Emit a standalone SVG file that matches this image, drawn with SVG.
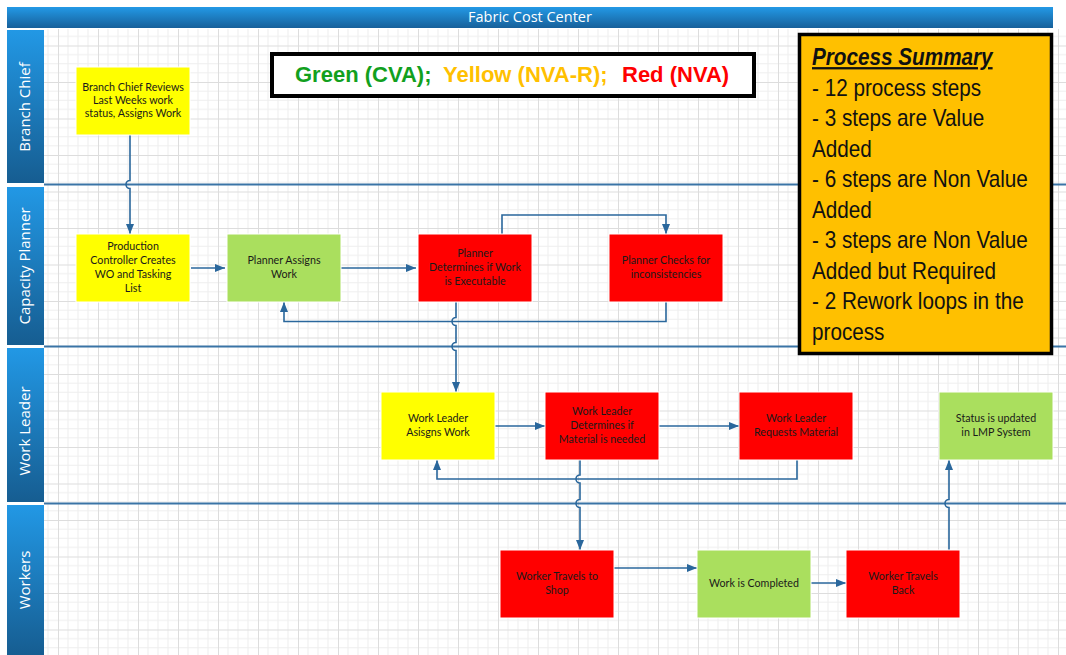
<svg xmlns="http://www.w3.org/2000/svg" width="1066" height="655" viewBox="0 0 1066 655">
<defs>
<pattern id="grid" x="18" y="9" width="40" height="36.5" patternUnits="userSpaceOnUse">
<path d="M10,0V36.5M20,0V36.5M30,0V36.5M0,9.125H40M0,18.25H40M0,27.375H40" stroke="#eeeeee" stroke-width="1" fill="none"/>
<path d="M0.5,0V36.5M0,0.5H40" stroke="#dddddd" stroke-width="1" fill="none"/>
</pattern>
<linearGradient id="hdr" x1="0" y1="0" x2="0" y2="1">
<stop offset="0" stop-color="#2399e6"/>
<stop offset="1" stop-color="#17609a"/>
</linearGradient>
<linearGradient id="lane" x1="0" y1="0" x2="0" y2="1">
<stop offset="0" stop-color="#2298e5"/>
<stop offset="1" stop-color="#165d91"/>
</linearGradient>
<marker id="arr" markerUnits="userSpaceOnUse" markerWidth="10" markerHeight="8" refX="10" refY="4" orient="auto">
<path d="M0,0L10,4L0,8z" fill="#2a679c"/>
</marker>
<style>
.node rect{stroke:#ffffff;stroke-width:1}
.y{fill:#ffff00}.g{fill:#aadf5e}.r{fill:#ff0000}
.node text{font-family:Lato,"Open Sans",sans-serif;font-size:10.7px;fill:#1a1a1a;text-anchor:middle}
.lanelbl{font-family:"Open Sans","DejaVu Sans",sans-serif;font-size:15px;fill:#ffffff;text-anchor:middle}
.conn path{fill:none;stroke:#2a679c;stroke-width:1.6}
.div{stroke:#3a74a6;stroke-width:2;fill:none}
.sum{font-family:"Liberation Sans",Arial,sans-serif;font-size:23px;fill:#111111}
</style>
</defs>
<rect width="1066" height="655" fill="#ffffff"/>
<rect x="44" y="29" width="1022" height="626" fill="url(#grid)"/>

<g id="header">
<rect x="7" y="7" width="1046" height="21" fill="url(#hdr)"/>
<text x="530" y="22" font-family="Open Sans, DejaVu Sans, sans-serif" font-size="14.5" fill="#ffffff" text-anchor="middle">Fabric Cost Center</text>
</g>

<g id="lanes">
<g id="lane-branch-chief"><rect x="7" y="30" width="37" height="153" fill="url(#lane)"/><text class="lanelbl" transform="translate(30,107) rotate(-90)">Branch Chief</text></g>
<g id="lane-capacity-planner"><rect x="7" y="187" width="37" height="158" fill="url(#lane)"/><text class="lanelbl" transform="translate(30,266) rotate(-90)">Capacity Planner</text></g>
<g id="lane-work-leader"><rect x="7" y="348" width="37" height="154" fill="url(#lane)"/><text class="lanelbl" transform="translate(30,431) rotate(-90)">Work Leader</text></g>
<g id="lane-workers"><rect x="7" y="505" width="37" height="150" fill="url(#lane)"/><text class="lanelbl" transform="translate(30,580) rotate(-90)">Workers</text></g>
<path class="div" d="M44,184.5H1066M44,346.5H1066M44,503.5H1066"/>
</g>

<g class="conn" id="connectors">
<path d="M130,135V180.5a4,4 0 0 0 0,8V234" marker-end="url(#arr)"/>
<path d="M191,268H225" marker-end="url(#arr)"/>
<path d="M341,268H416" marker-end="url(#arr)"/>
<path d="M502,234V215H666V234" marker-end="url(#arr)"/>
<path d="M666,302V321.5H284V302" marker-end="url(#arr)"/>
<path d="M456,302V317.5a4,4 0 0 0 0,8V342.5a4,4 0 0 0 0,8V392" marker-end="url(#arr)"/>
<path d="M495,426H545" marker-end="url(#arr)"/>
<path d="M659,426H739" marker-end="url(#arr)"/>
<path d="M797,460V479H437V460" marker-end="url(#arr)"/>
<path d="M580,460V475a4,4 0 0 0 0,8V499.5a4,4 0 0 0 0,8V550" marker-end="url(#arr)"/>
<path d="M614,568H697" marker-end="url(#arr)"/>
<path d="M811,583H846" marker-end="url(#arr)"/>
<path d="M949,550V507.5a4,4 0 0 1 0,-8V460" marker-end="url(#arr)"/>
</g>

<g class="node" id="n1"><rect class="y" x="76" y="67" width="114" height="68"/><text x="133" y="91">Branch Chief Reviews<tspan x="133" dy="13">Last Weeks work</tspan><tspan x="133" dy="13">status, Assigns Work</tspan></text></g>
<g class="node" id="n2"><rect class="y" x="76" y="234" width="114" height="68"/><text x="133" y="250">Production<tspan x="133" dy="14">Controller Creates</tspan><tspan x="133" dy="14">WO and Tasking</tspan><tspan x="133" dy="14">List</tspan></text></g>
<g class="node" id="n3"><rect class="g" x="227" y="234" width="114" height="68"/><text x="284" y="264">Planner Assigns<tspan x="284" dy="14">Work</tspan></text></g>
<g class="node" id="n4"><rect class="r" x="418" y="234" width="114" height="68"/><text x="475" y="257">Planner<tspan x="475" dy="14">Determines if Work</tspan><tspan x="475" dy="14">is Executable</tspan></text></g>
<g class="node" id="n5"><rect class="r" x="609" y="234" width="114" height="68"/><text x="666" y="264">Planner Checks for<tspan x="666" dy="14">inconsistencies</tspan></text></g>
<g class="node" id="n6"><rect class="y" x="381" y="392" width="114" height="68"/><text x="438" y="422">Work Leader<tspan x="438" dy="14">Asisgns Work</tspan></text></g>
<g class="node" id="n7"><rect class="r" x="545" y="392" width="114" height="68"/><text x="602" y="415">Work Leader<tspan x="602" dy="14">Determines if</tspan><tspan x="602" dy="14">Material is needed</tspan></text></g>
<g class="node" id="n8"><rect class="r" x="739" y="392" width="114" height="68"/><text x="796" y="422">Work Leader<tspan x="796" dy="14">Requests Material</tspan></text></g>
<g class="node" id="n9"><rect class="g" x="939" y="392" width="114" height="68"/><text x="996" y="422">Status is updated<tspan x="996" dy="14">in LMP System</tspan></text></g>
<g class="node" id="n10"><rect class="r" x="500" y="550" width="114" height="68"/><text x="557" y="580">Worker Travels to<tspan x="557" dy="14">Shop</tspan></text></g>
<g class="node" id="n11"><rect class="g" x="697" y="550" width="114" height="68"/><text x="754" y="587">Work is Completed</text></g>
<g class="node" id="n12"><rect class="r" x="846" y="550" width="114" height="68"/><text x="903" y="580">Worker Travels<tspan x="903" dy="14">Back</tspan></text></g>

<g id="legend">
<rect x="272" y="54" width="482" height="42" fill="#ffffff" stroke="#000000" stroke-width="4"/>
<text y="82" font-family="Liberation Sans, Arial, sans-serif" font-size="22" font-weight="bold"><tspan x="295" fill="#12a01e">Green (CVA);</tspan><tspan x="443" fill="#ffc000">Yellow (NVA-R);</tspan><tspan x="622" fill="#ff0000">Red (NVA)</tspan></text>
</g>

<g id="summary">
<rect x="799.5" y="34.5" width="252" height="319" fill="#ffc000" stroke="#000000" stroke-width="3.5"/>
<g transform="translate(812,0) scale(0.9,1)">
<text class="sum" x="0" y="65" font-weight="bold" font-style="italic" text-decoration="underline">Process Summary</text>
<text class="sum" x="0" y="96">- 12 process steps</text>
<text class="sum" x="0" y="126.5">- 3 steps are Value</text>
<text class="sum" x="0" y="157">Added</text>
<text class="sum" x="0" y="187.5">- 6 steps are Non Value</text>
<text class="sum" x="0" y="218">Added</text>
<text class="sum" x="0" y="248.5">- 3 steps are Non Value</text>
<text class="sum" x="0" y="279">Added but Required</text>
<text class="sum" x="0" y="309.5">- 2 Rework loops in the</text>
<text class="sum" x="0" y="340">process</text>
</g>
</g>
</svg>
